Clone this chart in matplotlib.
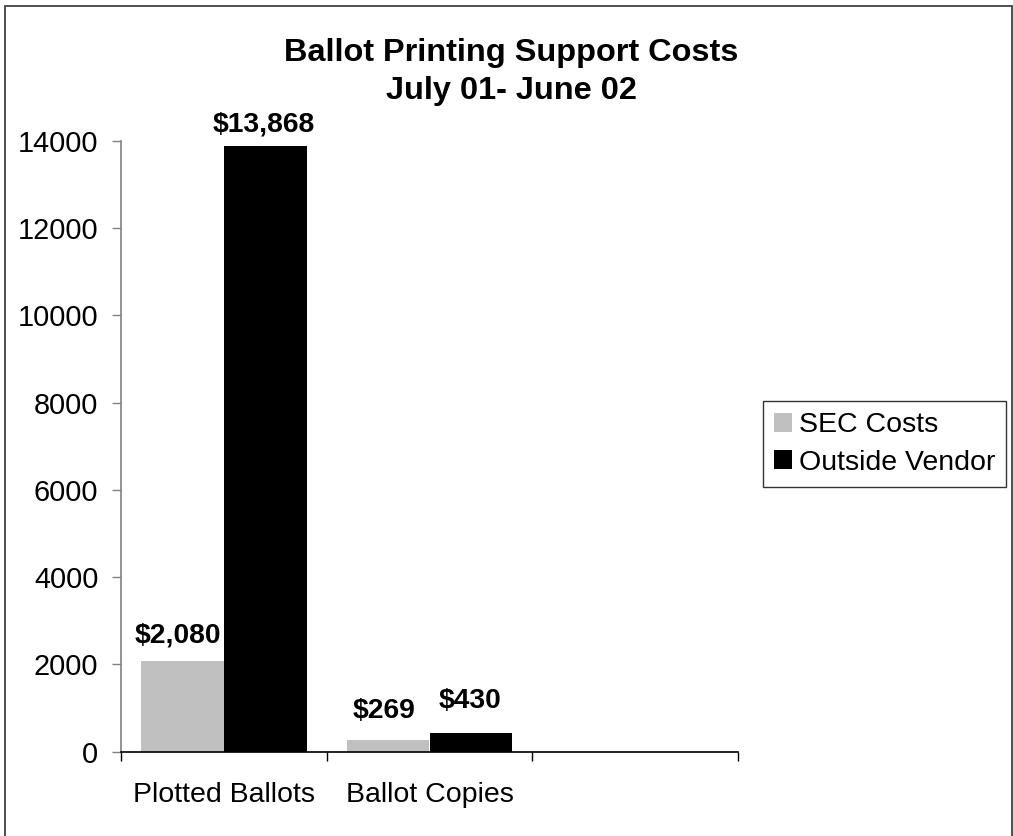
import matplotlib
matplotlib.use("Agg")
import matplotlib.pyplot as plt
from matplotlib.patches import Patch, Rectangle

# ---- data ----
categories = ["Plotted Ballots", "Ballot Copies", ""]
sec_costs = [2080, 269]
outside_vendor = [13868, 430]
sec_labels = ["$2,080", "$269"]
vendor_labels = ["$13,868", "$430"]
series_names = ["SEC Costs", "Outside Vendor"]
yticks = [0, 2000, 4000, 6000, 8000, 10000, 12000, 14000]
title = "Ballot Printing Support Costs\nJuly 01- June 02"

plt.rcParams['font.family'] = ['Liberation Sans', 'DejaVu Sans']

W, H = 1013, 836
fig = plt.figure(figsize=(W / 100, H / 100), dpi=100)

# figure border
fig.patches.append(Rectangle((4.5 / W, -0.01), (1012 - 4.5) / W, 1.01 - 5.5 / H,
                             transform=fig.transFigure, fill=False,
                             edgecolor='#404040', linewidth=1.3, zorder=0))

ax = fig.add_axes([120.7 / W, 1 - 751.7 / H, (738.3 - 120.7) / W, (751.7 - 140.7) / H])

grey = '#C0C0C0'
black = '#000000'
bw = 0.403
xs = [i + 0.5 for i in range(len(sec_costs))]
b1 = ax.bar([x - bw / 2 for x in xs], sec_costs, width=bw, color=grey, edgecolor='none', zorder=2)
b2 = ax.bar([x + bw / 2 for x in xs], outside_vendor, width=bw, color=black, edgecolor='none', zorder=2)

# data labels (offsets in points above bar tops)
sec_off = [13.0, 16.0]
ven_off = [11.0, 18.0]
for rect, lab, off in zip(b1, sec_labels, sec_off):
    ax.annotate(lab, (rect.get_x() + rect.get_width() / 2, rect.get_height()),
                xytext=(-3, off), textcoords='offset points', ha='center', va='baseline',
                fontsize=20.3, fontweight='bold')
for rect, lab, off in zip(b2, vendor_labels, ven_off):
    ax.annotate(lab, (rect.get_x() + rect.get_width() / 2, rect.get_height()),
                xytext=(-1, off), textcoords='offset points', ha='center', va='baseline',
                fontsize=20.3, fontweight='bold')

ax.set_xlim(0, len(categories))
ax.set_ylim(0, 14000)
ax.set_yticks(yticks)
ax.set_yticklabels([str(v) for v in yticks], fontsize=20.8)
ax.tick_params(axis='y', direction='out', length=6.5, width=1, color='#808080', pad=9.5)

ax.set_xticks(range(len(categories) + 1))
ax.set_xticklabels([])
ax.tick_params(axis='x', which='major', direction='out', length=6.5, width=1, color='black')
ax.set_xticks([i + 0.5 for i in range(len(categories))], minor=True)
ax.set_xticklabels(categories, minor=True, fontsize=20.5)
ax.tick_params(axis='x', which='minor', length=0, pad=22)

for s in ['top', 'right']:
    ax.spines[s].set_visible(False)
ax.spines['left'].set_color('#808080')
ax.spines['left'].set_linewidth(1.2)
ax.spines['bottom'].set_color('black')
ax.spines['bottom'].set_linewidth(1.2)

fig.text(511 / W, 1 - 38.5 / H, title, ha='center', va='top', fontsize=23.4,
         fontweight='bold', linespacing=1.33)

handles = [Patch(facecolor=grey, edgecolor='none'), Patch(facecolor=black, edgecolor='none')]
leg = fig.legend(handles, series_names, loc='center left',
                 bbox_to_anchor=(763 / W, 1 - 444 / H), bbox_transform=fig.transFigure,
                 fontsize=20.5, frameon=True, fancybox=False, shadow=False,
                 handlelength=0.63, handleheight=0.63, handletextpad=0.25,
                 labelspacing=0.4, borderpad=0.38, borderaxespad=0)
leg.get_frame().set_edgecolor('black')
leg.get_frame().set_linewidth(1.0)

fig.savefig('out.png', dpi=100)
